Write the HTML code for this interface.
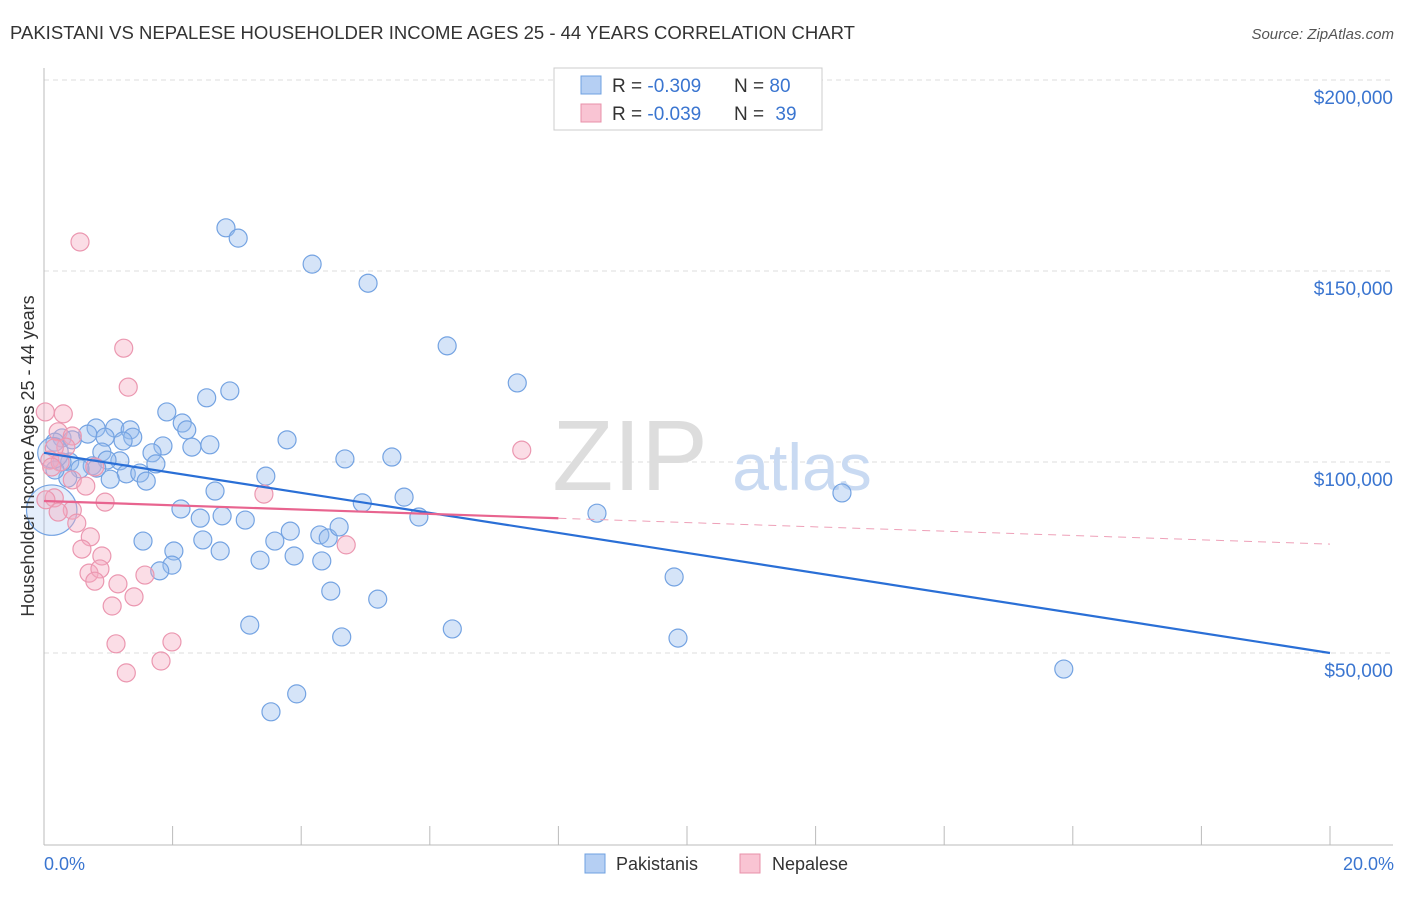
<!DOCTYPE html>
<html><head><meta charset="utf-8"><style>
body{margin:0;background:#fff;font-family:"Liberation Sans",sans-serif}
svg text{font-family:"Liberation Sans",sans-serif}
</style></head><body>
<svg id="c" width="1406" height="892">
<text x="10" y="39" font-size="18" fill="#333" textLength="845" lengthAdjust="spacingAndGlyphs">PAKISTANI VS NEPALESE HOUSEHOLDER INCOME AGES 25 - 44 YEARS CORRELATION CHART</text>
<text x="1394" y="39" font-size="15" fill="#555" font-style="italic" text-anchor="end">Source: ZipAtlas.com</text>
<g id="grid"></g>
<text x="630" y="490" font-size="100" fill="#ddd" font-family="Liberation Serif" text-anchor="middle">ZIP</text>
<text x="802" y="490" font-size="66" fill="#c9daf2" text-anchor="middle">atlas</text>
<g id="pts"></g><g id="lines"></g>
<text transform="translate(34,456) rotate(-90)" font-size="18" fill="#333" text-anchor="middle">Householder Income Ages 25 - 44 years</text>
<text x="44" y="870" font-size="18" fill="#3a75d0">0.0%</text>
<text x="1394" y="870" font-size="18" fill="#3a75d0" text-anchor="end">20.0%</text>
<g>
<rect x="554" y="68" width="268" height="62" fill="#fff" stroke="#ccc"/>
<rect x="581" y="76" width="20" height="18" fill="#b5cff3" stroke="#6fa0e0"/>
<rect x="581" y="104" width="20" height="18" fill="#f9c4d3" stroke="#e890aa"/>
<text x="612" y="92" font-size="19" fill="#333">R = <tspan fill="#3a75d0">-0.309</tspan></text>
<text x="734" y="92" font-size="19" fill="#333">N = <tspan fill="#3a75d0">80</tspan></text>
<text x="612" y="120" font-size="19" fill="#333">R = <tspan fill="#3a75d0">-0.039</tspan></text>
<text x="734" y="120" font-size="19" fill="#333">N = <tspan fill="#3a75d0" dx="6">39</tspan></text>
</g>
<g>
<rect x="585" y="854" width="20" height="19" fill="#b5cff3" stroke="#6fa0e0"/>
<text x="616" y="870" font-size="18" fill="#333">Pakistanis</text>
<rect x="740" y="854" width="20" height="19" fill="#f9c4d3" stroke="#e890aa"/>
<text x="772" y="870" font-size="18" fill="#333">Nepalese</text>
</g>
</svg>
<script>
const yTicks=[50000,100000,150000,200000];
const yTickLabels=["$50,000","$100,000","$150,000","$200,000"];
const xTicks=[0,2,4,6,8,10,12,14,16,18,20];
const blueX=[2.83,3.02,4.17,5.04,6.27,7.36,2.89,2.53,1.91,2.15,2.22,0.81,1.10,1.34,1.38,0.28,0.44,0.17,0.68,0.95,1.23,1.85,2.58,2.30,3.78,1.68,0.90,1.74,1.18,0.98,0.75,0.82,0.40,0.28,0.56,1.28,1.49,1.03,1.59,0.37,0.17,3.45,4.68,5.41,2.66,5.60,4.95,2.13,2.43,2.77,3.13,5.83,8.60,12.41,3.83,4.29,4.42,4.59,1.54,2.47,3.59,2.02,2.74,3.89,4.32,3.36,1.99,1.80,9.80,4.46,5.19,3.20,6.35,4.63,9.86,15.86,3.93,3.53,0.12,0.14];
const blueY=[161.3,158.6,151.8,146.8,130.4,120.7,118.6,116.8,113.1,110.2,108.4,108.9,108.9,108.4,106.5,106.3,105.8,105.2,107.3,106.5,105.5,104.2,104.5,103.9,105.8,102.4,102.6,99.5,100.3,100.5,99.0,98.4,100,100,98.2,96.9,97.1,95.5,95.0,95.8,97.9,96.3,100.8,101.3,92.4,90.8,89.3,87.7,85.3,85.9,84.8,85.6,86.6,91.9,81.9,80.9,80.1,83.0,79.3,79.6,79.3,76.7,76.7,75.4,74.1,74.3,73.0,71.5,69.9,66.2,64.1,57.3,56.3,54.2,53.9,45.8,39.3,34.6,87.4,102.4];
const blueSize=[1,1,1,1,1,1,1,1,1,1,1,1,1,1,1,1,1,1,1,1,1,1,1,1,1,1,1,1,1,1,1,1,1,1,1,1,1,1,1,1,1,1,1,1,1,1,1,1,1,1,1,1,1,1,1,1,1,1,1,1,1,1,1,1,1,1,1,1,1,1,1,1,1,1,1,1,1,1,2.8,1.7];
const pinkX=[0.56,1.24,1.31,0.30,0.02,0.22,0.44,0.34,0.16,0.09,0.25,0.12,0.79,0.44,0.65,0.16,0.95,3.42,7.43,0.44,0.51,0.72,0.59,0.90,0.70,0.87,0.79,1.15,1.40,1.06,1.57,4.70,1.12,1.99,1.82,1.28,0.22,0.03];
const pinkY=[157.6,129.8,119.6,112.6,113.1,107.9,106.8,103.9,103.7,100.5,100,98.7,98.7,95.3,93.7,90.6,89.5,91.6,103.1,87.4,84.0,80.4,77.2,75.4,70.9,72.0,68.8,68.1,64.7,62.3,70.4,78.3,52.4,52.9,47.9,44.8,86.9,90.1];
const blueTrend=[102.4,50.0];
const pinkTrend=[89.8,78.5];
const pinkSolidEnd=8;
const NS="http://www.w3.org/2000/svg";
function X(p){return 44+p*64.3;}
function Y(k){return 462-(k-100)*3.82;}
function mk(t,a,parent){const e=document.createElementNS(NS,t);for(const k in a)e.setAttribute(k,a[k]);document.getElementById(parent).appendChild(e);return e;}
yTicks.forEach((v,i)=>{const y=Y(v/1000);
const l=mk('line',{x1:44,x2:1393,y1:y,y2:y,stroke:'#ddd','stroke-dasharray':'5,4'},'grid');


const t=mk('text',{x:1393,y:y+24,'font-size':19,fill:'#3a75d0','text-anchor':'end'},'grid');t.textContent=yTickLabels[i];

});
const ax=mk('line',{x1:44,x2:44,y1:68,y2:845,stroke:'#bbb'},'grid');


const bx=mk('line',{x1:44,x2:1393,y1:845,y2:845,stroke:'#bbb'},'grid');


xTicks.forEach(v=>{const t=mk('line',{x1:X(v),x2:X(v),y1:826,y2:845,stroke:'#bbb'},'grid');

});
blueX.forEach((v,i)=>{const c=mk('circle',{cx:X(v),cy:Y(blueY[i]),r:9*blueSize[i],fill:blueSize[i]>1?'rgba(150,188,238,0.25)':'rgba(150,188,238,0.4)',stroke:'#74a3e2','stroke-width':1.2},'pts');

});
pinkX.forEach((v,i)=>{const c=mk('circle',{cx:X(v),cy:Y(pinkY[i]),r:9,fill:'rgba(246,170,192,0.4)',stroke:'#eb97b0','stroke-width':1.2},'pts');

});
const bl=mk('line',{x1:X(0),y1:Y(blueTrend[0]),x2:X(20),y2:Y(blueTrend[1]),stroke:'#2a6fd6','stroke-width':2.2},'lines');


const pm=pinkTrend[0]+(pinkTrend[1]-pinkTrend[0])*pinkSolidEnd/20;
const pl=mk('line',{x1:X(0),y1:Y(pinkTrend[0]),x2:X(pinkSolidEnd),y2:Y(pm),stroke:'#e8648f','stroke-width':2.2},'lines');


const pd=mk('line',{x1:X(pinkSolidEnd),y1:Y(pm),x2:X(20),y2:Y(pinkTrend[1]),stroke:'#eea0b8','stroke-width':1,'stroke-dasharray':'8,6'},'lines');


</script>
</body></html>
